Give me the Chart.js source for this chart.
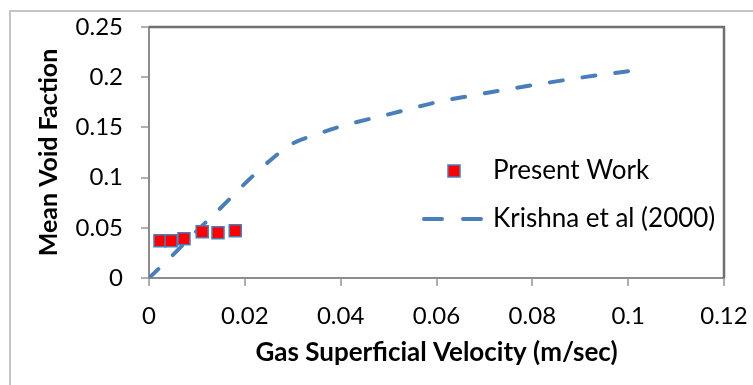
<!DOCTYPE html>
<html>
<head>
<meta charset="utf-8">
<script src="https://cdn.jsdelivr.net/npm/chart.js@4"></script>
<style>
  body { margin: 0; background: #fff; }
  canvas { display: block; }
</style>
</head>
<body>
<canvas id="voidChart" width="753" height="385"></canvas>
<script>
// Measured data (present work)
const presentVelocity = [0.0023, 0.0046, 0.0073, 0.0111, 0.0144, 0.0180];
const presentVoid = [0.037, 0.037, 0.039, 0.046, 0.045, 0.047];

// Krishna et al (2000) correlation curve
const krishnaVelocity = [0, 0.005, 0.01, 0.015, 0.02, 0.025, 0.03, 0.035, 0.04, 0.05, 0.06, 0.07, 0.08, 0.09, 0.1];
const krishnaVoid = [0, 0.023, 0.047, 0.070, 0.094, 0.116, 0.134, 0.143, 0.151, 0.163, 0.175, 0.184, 0.192, 0.1995, 0.206];

// Axis tick labels
const xTickLabels = ['0', '0.02', '0.04', '0.06', '0.08', '0.1', '0.12'];
const yTickLabels = ['0', '0.05', '0.1', '0.15', '0.2', '0.25'];

const seriesNames = ['Present Work', 'Krishna et al (2000)'];

const lineBlue = '#4A7EBB';
const markerRed = '#FF0000';
const axisGray = '#8C8C8C';

Chart.defaults.font.family = 'Lato';
Chart.defaults.color = '#000';

function toPoints(xs, ys) {
  return xs.map((x, i) => ({ x: x, y: ys[i] }));
}

// Frame, plot box and in-plot legend
const decorPlugin = {
  id: 'decor',
  beforeDraw(chart) {
    const ctx = chart.ctx;
    ctx.save();
    ctx.strokeStyle = '#C4C4C4';
    ctx.lineWidth = 2;
    ctx.beginPath();
    ctx.moveTo(10, chart.height);
    ctx.lineTo(10, 11);
    ctx.lineTo(chart.width, 11);
    ctx.stroke();
    ctx.restore();
  },
  afterDraw(chart) {
    const ctx = chart.ctx;
    const a = chart.chartArea;
    ctx.save();
    // top and right edges of the plot box
    ctx.strokeStyle = '#707070';
    ctx.lineWidth = 2.5;
    ctx.beginPath();
    ctx.moveTo(a.left, a.top);
    ctx.lineTo(a.right, a.top);
    ctx.lineTo(a.right, a.bottom);
    ctx.stroke();

    // legend
    const textX = a.right - 231;
    const row1 = a.top + 144;
    const row2 = a.top + 192;
    ctx.font = '26px Lato';
    ctx.textBaseline = 'middle';
    ctx.textAlign = 'left';

    const s = 12;
    const mx = a.right - 270;
    ctx.fillStyle = markerRed;
    ctx.fillRect(mx - s / 2, row1 - s / 2, s, s);
    ctx.strokeStyle = lineBlue;
    ctx.lineWidth = 1.5;
    ctx.strokeRect(mx - s / 2, row1 - s / 2, s, s);

    ctx.fillStyle = '#000';
    ctx.fillText(seriesNames[0], textX, row1);

    ctx.strokeStyle = lineBlue;
    ctx.lineWidth = 4;
    ctx.lineCap = 'round';
    ctx.setLineDash([18, 21]);
    ctx.beginPath();
    ctx.moveTo(a.right - 300, row2);
    ctx.lineTo(a.right - 241, row2);
    ctx.stroke();
    ctx.setLineDash([]);

    ctx.fillText(seriesNames[1], textX, row2);
    ctx.restore();
  }
};

const ctx = document.getElementById('voidChart').getContext('2d');
new Chart(ctx, {
  type: 'scatter',
  data: {
    datasets: [
      {
        label: seriesNames[0],
        data: toPoints(presentVelocity, presentVoid),
        pointStyle: 'rect',
        pointRadius: 8.5,
        backgroundColor: markerRed,
        borderColor: lineBlue,
        borderWidth: 1.5
      },
      {
        label: seriesNames[1],
        data: toPoints(krishnaVelocity, krishnaVoid),
        showLine: true,
        pointRadius: 0,
        borderColor: lineBlue,
        borderWidth: 4,
        borderDash: [13, 20],
        borderCapStyle: 'round',
        cubicInterpolationMode: 'monotone',
        fill: false
      }
    ]
  },
  options: {
    responsive: false,
    animation: false,
    layout: { padding: { left: 30, top: 27, right: 29, bottom: 0 } },
    plugins: {
      legend: { display: false },
      tooltip: { enabled: false }
    },
    scales: {
      x: {
        type: 'linear',
        min: 0,
        max: 0.12,
        afterFit: (scale) => {
          scale.height = 107;
          scale.paddingLeft = 0;
          scale.paddingRight = 0;
        },
        ticks: {
          stepSize: 0.02,
          padding: 16,
          font: { size: 24 },
          maxRotation: 0,
          callback: (v, i) => xTickLabels[i]
        },
        grid: { drawOnChartArea: false, tickLength: 8, color: '#B0B0B0', lineWidth: 2 },
        border: { color: axisGray, width: 2 },
        title: {
          display: true,
          text: 'Gas Superficial Velocity (m/sec)',
          font: { size: 26, weight: 'bold' },
          padding: { top: 0, bottom: 17 }
        }
      },
      y: {
        min: 0,
        max: 0.25,
        afterFit: (scale) => {
          scale.width = 119;
          scale.paddingTop = 0;
          scale.paddingBottom = 0;
        },
        ticks: {
          stepSize: 0.05,
          padding: 18,
          font: { size: 24 },
          callback: (v, i) => yTickLabels[i]
        },
        grid: { drawOnChartArea: false, tickLength: 8, color: '#B0B0B0', lineWidth: 2 },
        border: { color: axisGray, width: 2 },
        title: {
          display: true,
          text: 'Mean Void Faction',
          font: { size: 25, weight: 'bold' },
          padding: { top: 4, bottom: 0 }
        }
      }
    }
  },
  plugins: [decorPlugin]
});
</script>
</body>
</html>
